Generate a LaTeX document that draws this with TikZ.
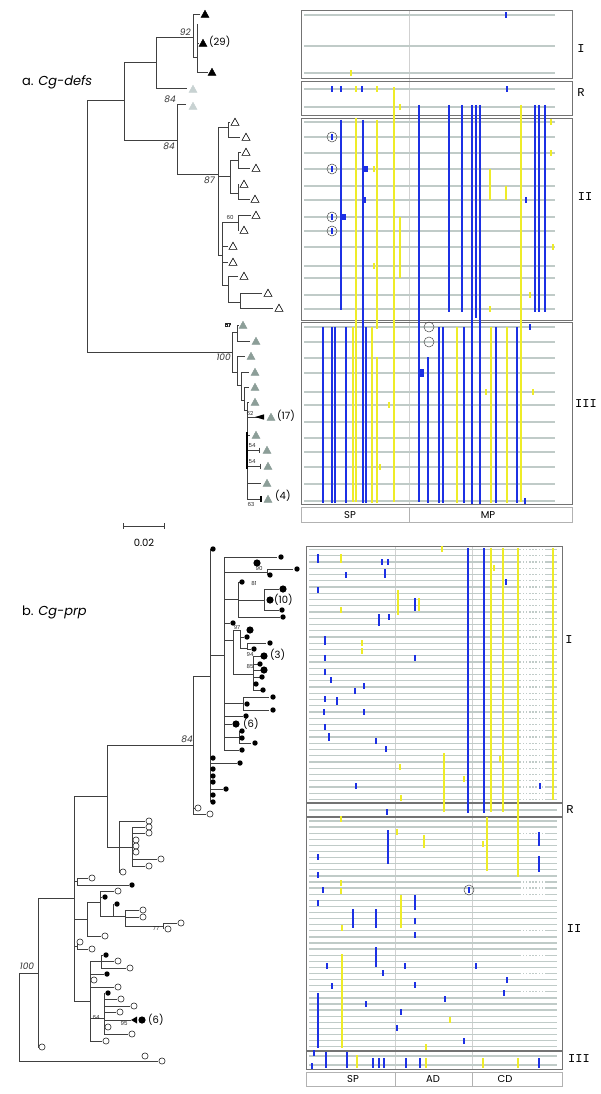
\documentclass[tikz,border=0pt]{standalone}
\usepackage{fontspec}
\setmainfont{Poppins}
\newfontfamily\monof{Liberation Mono}
\definecolor{bl}{RGB}{28,48,228}
\definecolor{yl}{RGB}{238,236,40}
\definecolor{rowc}{RGB}{192,203,200}
\definecolor{tgray}{RGB}{140,158,152}
\definecolor{rgray}{RGB}{200,210,210}
\tikzset{
  br/.style={draw=black!75, line width=0.7pt},
  rowa/.style={draw=rowc, line width=1.5pt},
  rowb/.style={draw=rowc, line width=1.3pt},
  boxa/.style={draw=black!55, line width=0.8pt},
  boxf/.style={draw=black!30, line width=0.6pt},
  divl/.style={draw=black!18, line width=0.4pt},
  tinyl/.style={font=\fontsize{5.5}{5.5}\selectfont, inner sep=0pt, text=black!85},
  boot/.style={font=\fontsize{9}{9}\selectfont\itshape, inner sep=0pt, text=black!80},
  cnt/.style={font=\fontsize{10}{10}\selectfont, inner sep=0pt, anchor=west},
  monol/.style={font=\fontsize{12}{12}\selectfont\monof, inner sep=0pt},
  footl/.style={font=\fontsize{10}{10}\selectfont, inner sep=0pt},
  title/.style={font=\fontsize{13}{13}\selectfont, inner sep=0pt, anchor=west},
}
\newcommand\barA[4]{\draw[line width=2.8pt,#4] (#1,#2) -- (#1,#3);}
\newcommand\barB[4]{\draw[line width=2.3pt,#4] (#1,#2) -- (#1,#3);}
\newcommand\mkA[3]{\fill[#3] ({#1-1.3},{#2-3}) rectangle ({#1+1.3},{#2+3});}
\newcommand\mkB[3]{\fill[#3] ({#1-1.2},{#2-2.8}) rectangle ({#1+1.2},{#2+2.8});}
\newcommand\circA[2]{\draw[black!70,line width=0.5pt] (#1,#2) circle (5);}
\newcommand\LeafT[3]{\filldraw[#3] ({#1-4},{#2+3.4}) -- ({#1+4},{#2+3.4}) -- (#1,{#2-3.8}) -- cycle;}
\newcommand\LeafDot[2]{\fill[black] (#1,#2) circle (2.7);}
\newcommand\LeafBig[2]{\fill[black] (#1,#2) circle (3.6);}
\newcommand\LeafO[2]{\draw[black!85,line width=0.6pt,fill=white] (#1,#2) circle (3.1);}
\begin{document}
\begin{tikzpicture}[x=1pt,y=-1pt]
\useasboundingbox (0,0) rectangle (600,1094);
\fill[white] (0,0) rectangle (600,1094);

%================ PANEL A : alignment =================
\draw[divl] (409,10) -- (409,504);
\foreach \y in {15,46,73,89,107,122,137,153,169,186,200,217,231,247,266,278,295,309,327,342,358,373,392,405,422,438,452,467,484,501}
  \draw[rowa] (304,\y) -- (555,\y);
\draw[boxa] (301,10) rectangle (572,78);
\draw[boxa] (301,81) rectangle (572,115);
\draw[boxa] (301,118) rectangle (572,320);
\draw[boxa] (301,322) rectangle (572,504);
\draw[boxf] (301,507) rectangle (572,522);
\draw[boxf] (409,507) -- (409,522);
\node[footl] (fSPa) at (350,515) {SP};
\node[footl] (fMPa) at (488,515) {MP};
% box I and R marks
\mkA{506}{15}{bl} \mkA{351}{73}{yl}
\mkA{332}{89}{bl} \mkA{341}{89}{bl} \mkA{356}{89}{yl} \mkA{362}{89}{bl} \mkA{377}{89}{yl} \mkA{507}{89}{bl}
\mkA{400}{107}{yl}
% long bars
\barA{394}{87}{502}{yl}
\barA{419}{105}{502}{bl}
\barA{449}{105}{312}{bl}
\barA{462}{105}{312}{bl}
\barA{472}{105}{504}{bl}
\barA{476}{105}{318}{bl}
\barA{480}{105}{504}{bl}
\barA{521}{105}{502}{yl}
\barA{535}{105}{312}{bl}
\barA{539}{105}{312}{bl}
\barA{545}{105}{312}{bl}
% box II
\barA{341}{120}{310}{bl}
\barA{356}{118}{502}{yl}
\barA{363}{120}{503}{bl}
\barA{377}{120}{329}{yl}
\barA{400}{217}{278}{yl}
\barA{490}{169}{200}{yl}
\barA{506}{186}{200}{yl}
\mkA{332}{137}{bl} \circA{332}{137}
\mkA{332}{169}{bl} \circA{332}{169}
\mkA{332}{217}{bl} \circA{332}{217}
\mkA{332}{231}{bl} \circA{332}{231}
\fill[bl] (363,166) rectangle (368,172);
\mkA{374}{169}{yl} \mkA{365}{200}{bl} \fill[bl] (341,214) rectangle (346,220);
\mkA{374}{266}{yl} \mkA{526}{200}{bl}
\mkA{551}{122}{yl} \mkA{551}{153}{yl} \mkA{553}{247}{yl} \mkA{530}{295}{yl} \mkA{490}{309}{yl}
% box III
\barA{323}{327}{503}{bl}
\barA{332}{327}{503}{bl}
\barA{335}{327}{503}{bl}
\barA{346}{327}{503}{bl}
\barA{353}{327}{502}{yl}
\barA{366}{327}{503}{bl}
\barA{372}{327}{503}{yl}
\barA{377}{357}{503}{yl}
\mkA{389}{405}{yl} \mkA{380}{467}{yl}
\circA{429}{327} \circA{429}{342}
\barA{428}{357}{503}{bl}
\fill[bl] (419,369) rectangle (423.5,377);
\barA{439}{327}{503}{bl}
\barA{443}{327}{503}{bl}
\barA{457}{327}{503}{yl}
\barA{464}{327}{503}{bl}
\barA{491}{327}{503}{yl}
\barA{496}{327}{503}{bl}
\barA{507}{327}{503}{yl}
\barA{517}{327}{503}{bl}
\mkA{530}{327}{bl} \mkA{525}{501}{bl}
\mkA{486}{392}{yl} \mkA{533}{392}{yl}
% row labels
\node[monol] (lIa) at (581,49) {I};
\node[monol] (lRa) at (581,93) {R};
\node[monol] (lIIa) at (585,197) {II};
\node[monol] (lIIIa) at (586,404) {III};

%================ PANEL A : tree =================
\node[title] (ta) at (22,82) {a. \textit{Cg-defs}};
\draw[br] (124,100) -| (87,352) -- (232,352);
\draw[br] (156,62) -| (124,140) -- (177,140);
\draw[br] (193,37) -| (156,88) -- (187,88);
\draw[br] (200,14) -| (193,57) -- (197,57);
\draw[br] (197,24) -- (197,72) -- (208,72);
\draw[br] (197,43) -- (199,43);
\LeafT{205}{14}{black} \LeafT{203}{43}{black} \LeafT{212}{72}{black}
\node[cnt] (c29) at (209,42) {(29)};
\node[boot, anchor=south east] (b92) at (191,36) {92};
\draw[br] (186,104) -| (177,174) -- (218,174);
\LeafT{193}{89}{rgray,draw=rgray} \LeafT{193}{106}{rgray,draw=rgray}
\node[boot, anchor=south east] (b84a) at (176,103) {84};
\node[boot, anchor=north east] (b84b) at (175,143) {84};
\draw[br] (228,127) -| (218,255) -- (222,255);
\draw[br] (218,176) -- (230,176);
\node[boot, anchor=north east] (b87) at (215,177) {87};
\draw[br] (230,122) -| (228,137) -- (240,137);
\draw[br] (238,160) -| (230,193) -- (238,193);
\draw[br] (241,152) -| (238,168) -- (250,168);
\draw[br] (239,184) -| (238,199) -- (250,199);
\draw[br] (238,222) -| (222,285) -- (228,285);
\draw[br] (251,215) -| (238,230) -- (239,230);
\draw[br] (222,246) -- (228,246);
\draw[br] (222,262) -- (228,262);
\draw[br] (238,276) -| (228,302) -- (240,302);
\draw[br] (262,293) -| (240,308) -- (273,308);
\node[tinyl] (t60) at (230,217) {60};
\foreach \p/\q in {235/122,246/137,246/152,256/168,244/184,255/199,256/215,244/230,233/246,233/262,244/276,268/293,279/308}
  \LeafT{\p}{\q}{draw=black,fill=white,line width=0.6pt}
% clade III
\draw[br] (237,332) -- (232,332) -- (232,372) -- (237,372);
\draw[br] (239,325) -| (237,341) -- (250,341);
\draw[br] (245,356) -| (237,385) -- (241,385);
\draw[br] (249,372) -| (241,400) -- (244,400);
\draw[br] (249,387) -| (244,410) -- (247,410);
\draw[br] (249,402) -- (247,402) -- (247,499) -- (262,499);
\draw[br] (247,417) -- (258,417);
\fill[black] (255,417) -- (264,414.3) -- (264,419.7) -- cycle;
\draw[br] (247,435) -- (250,435);
\draw[br] (247,450) -- (259,450); \draw[br] (259,447.5) -- (259,452.5);
\draw[br] (247,466) -- (260,466); \draw[br] (260,463.5) -- (260,468.5);
\draw[br] (247,483) -- (261,483);
\draw[black, line width=1.6pt] (247,432) -- (247,469);
\draw[black, line width=1.6pt] (261,496) -- (261,502);
\foreach \p/\q in {243/325,256/341,251/356,255/372,255/387,255/402,271/417,256/435,267/450,268/466,267/483,268/499}
  \LeafT{\p}{\q}{tgray,draw=tgray}
\node[tinyl] (t57) at (228,326) {57};
\node[boot, anchor=north east] (b100a) at (231,354) {100};
\node[tinyl] (t62) at (250,413) {62};
\node[tinyl] (t54a) at (252,446) {54};
\node[tinyl] (t54b) at (252,462) {54};
\node[tinyl] (t63) at (251,504) {63};
\node[cnt] (c17) at (277,416) {(17)};
\node[cnt] (c4) at (275,496) {(4)};
% scale bar
\draw[br] (123,526) -- (164,526);
\draw[br] (123,523) -- (123,529);
\draw[br] (164,523) -- (164,529);
\node[footl] (sc) at (144,543) {0.02};

%================ PANEL B : alignment =================
\draw[divl] (395,546) -- (395,1069);
\draw[divl] (472,546) -- (472,1069);
\foreach \k in {0,...,40} \draw[rowb] (309,{549.5+6.25*\k}) -- (557,{549.5+6.25*\k});
\draw[rowb] (309,810) -- (557,810);
\foreach \k in {0,...,37} \draw[rowb] (309,{821+6.1*\k}) -- (557,{821+6.1*\k});
\draw[rowb] (309,1056) -- (557,1056);
\draw[rowb] (309,1065) -- (557,1065);
\foreach \k in {0,...,40} \draw[white,line width=1.5pt,dash pattern=on 1.6pt off 1.6pt] (521,{549.5+6.25*\k}) -- (546,{549.5+6.25*\k});
\foreach \k in {2,10,11,12,18,22,25,28} \draw[white,line width=1.5pt,dash pattern=on 1.6pt off 1.6pt] (521,{821+6.1*\k}) -- (546,{821+6.1*\k});
\draw[boxa] (306,546) rectangle (562,802);
\draw[boxa] (306,803) rectangle (562,816);
\draw[boxa] (306,817) rectangle (562,1069);
\draw[black!55, line width=1.4pt] (306,1051) -- (562,1051);
\draw[boxf] (306,1072) rectangle (562,1086);
\draw[boxf] (395,1072) -- (395,1086);
\draw[boxf] (472,1072) -- (472,1086);
\node[footl] (fSPb) at (353,1079) {SP};
\node[footl] (fADb) at (433,1079) {AD};
\node[footl] (fCDb) at (505,1079) {CD};
% long bars
\barB{468}{548}{813}{bl}
\barB{484}{548}{813}{bl}
\barB{491}{548}{812}{yl}
\barB{503}{548}{812}{yl}
\barB{518}{548}{877}{yl}
\barB{553}{548}{800}{yl}
\barB{444}{753}{812}{yl}
\barB{487}{817}{871}{yl}
\barB{539}{832}{846}{bl}
\barB{539}{856}{872}{bl}
\barB{388}{830}{864}{bl}
% box I marks
\barB{318}{554}{563}{bl} \barB{341}{554}{563}{yl}
\mkB{382}{562}{bl} \mkB{388}{562}{bl}
\mkB{346}{575}{bl} \barB{385}{569}{578}{bl}
\mkB{442}{549}{yl} \mkB{494}{568}{yl} \mkB{506}{582}{bl}
\mkB{318}{590}{bl}
\barB{398}{590}{615}{yl}
\barB{415}{598}{611}{bl} \barB{419}{598}{611}{yl}
\mkB{341}{610}{yl} \mkB{379}{617}{bl} \mkB{389}{617}{bl} \mkB{379}{623}{bl}
\barB{325}{636}{645}{bl}
\mkB{362}{643}{yl} \mkB{362}{651}{yl}
\mkB{325}{658}{bl} \mkB{415}{658}{bl}
\mkB{325}{672}{bl} \mkB{331}{680}{bl}
\mkB{364}{686}{bl} \mkB{355}{691}{bl}
\mkB{325}{699}{bl} \barB{337}{697}{705}{bl}
\mkB{324}{712}{bl} \mkB{364}{712}{bl}
\mkB{325}{727}{bl} \barB{329}{733}{741}{bl}
\mkB{376}{741}{bl} \mkB{386}{749}{bl}
\mkB{400}{767}{yl} \mkB{500}{759}{yl} \mkB{464}{779}{yl}
\mkB{356}{786}{bl} \mkB{540}{786}{bl}
\mkB{401}{798}{yl}
\mkB{387}{812}{bl}
% box II marks
\mkB{341}{819}{yl} \mkB{397}{832}{yl}
\barB{424}{835}{848}{yl}
\mkB{483}{844}{yl}
\mkB{318}{857}{bl} \mkB{318}{875}{bl}
\mkB{341}{883}{yl} \mkB{341}{891}{yl} \mkB{323}{890}{bl}
\mkB{469}{890}{bl} \circA{469}{890}
\mkB{318}{903}{bl}
\barB{401}{895}{928}{yl}
\barB{415}{895}{910}{bl}
\barB{353}{909}{928}{bl} \barB{376}{909}{928}{bl}
\mkB{342}{928}{yl} \mkB{415}{921}{bl} \mkB{415}{935}{bl}
\barB{376}{947}{967}{bl}
\barB{342}{954}{1048}{yl}
\mkB{327}{966}{bl} \mkB{405}{966}{bl} \mkB{476}{966}{bl}
\mkB{383}{973}{bl} \mkB{507}{980}{bl}
\mkB{332}{986}{bl} \mkB{415}{985}{bl}
\mkB{504}{993}{bl}
\barB{318}{993}{1048}{bl}
\mkB{445}{999}{bl} \mkB{366}{1004}{bl} \mkB{401}{1012}{bl}
\mkB{450}{1020}{yl} \mkB{397}{1028}{bl} \mkB{464}{1041}{bl}
\mkB{426}{1047}{yl}
% box III marks
\mkB{314}{1053}{bl} \mkB{312}{1066}{bl}
\barB{326}{1052}{1068}{bl} \barB{347}{1052}{1068}{bl}
\barB{357}{1055}{1068}{yl}
\barB{373}{1058}{1068}{bl} \barB{379}{1058}{1068}{bl} \barB{384}{1058}{1068}{bl}
\barB{406}{1058}{1068}{bl} \barB{420}{1058}{1068}{bl}
\barB{426}{1058}{1068}{yl} \barB{483}{1058}{1068}{yl}
\barB{518}{1058}{1068}{yl} \barB{539}{1058}{1068}{bl}
% row labels
\node[monol] (lIb) at (569,640) {I};
\node[monol] (lRb) at (570,810) {R};
\node[monol] (lIIb) at (574,929) {II};
\node[monol] (lIIIb) at (579,1059) {III};

%================ PANEL B : tree =================
\node[title] (tb) at (22,612) {b. \textit{Cg-prp}};
% root
\draw[br] (38,973) -- (19,973) -- (19,1061) -- (158,1061);
\LeafO{162}{1061} \LeafO{145}{1056}
\node[boot] (b100b) at (27,966) {100};
\draw[br] (74,898) -- (38,898) -- (38,1047) -- (39,1047);
\LeafO{42}{1047}
\draw[br] (107,796) -- (74,796) -- (74,1001) -- (90,1001);
\draw[br] (193,745) -- (107,745) -- (107,847) -- (119,847);
\node[boot] (b84c) at (187,739) {84};
\draw[br] (210,676) -- (193,676) -- (193,814) -- (206,814);
\draw[br] (193,808) -- (195,808);
\LeafO{198}{808} \LeafO{210}{814}
% H clade
\draw[br] (210,549) -- (210,802);
\draw[br] (210,655) -- (224,655);
\draw[br] (224,557) -- (224,750) -- (239,750);
\LeafDot{213}{549}
\foreach \q in {758,769,776,782,795,802} \LeafDot{213}{\q}
\draw[br] (210,763) -- (237,763); \LeafDot{240}{763}
\draw[br] (210,789) -- (223,789); \LeafDot{226}{789}
\draw[br] (224,557) -- (277,557); \LeafDot{281}{557}
\LeafBig{257}{563}
\draw[br] (224,572) -- (267,572); \draw[br] (267,569) -- (267,575);
\draw[br] (267,569) -- (293,569); \LeafDot{297}{569} \LeafDot{270}{575}
\node[tinyl] (t90) at (259,568) {90};
\draw[br] (224,599) -- (238,599);
\draw[br] (242,582) -- (238,582) -- (238,617) -- (280,617);
\LeafDot{242}{582} \LeafDot{283}{617}
\draw[br] (238,600) -- (264,600);
\draw[br] (279,589) -- (264,589) -- (264,610) -- (279,610);
\LeafBig{283}{589} \LeafBig{270}{600} \LeafDot{282}{610}
\node[tinyl] (t81) at (254,584) {81};
\node[cnt] (c10) at (274,600) {(10)};
\draw[br] (224,623) -- (230,623); \LeafDot{233}{623}
\node[tinyl] (t97) at (237,627) {97};
\draw[br] (224,640) -- (233,640);
\draw[br] (240,630) -- (233,630) -- (233,674) -- (253,674);
\draw[br] (240,630) -- (240,648) -- (247,648);
\LeafBig{250}{630}
\draw[br] (240,637) -- (244,637); \LeafDot{247}{637}
\draw[br] (247,643) -- (247,649);
\draw[br] (247,643) -- (266,643); \LeafDot{270}{643} \LeafDot{254}{649}
\draw[br] (247,649) -- (251,649);
\node[tinyl] (t94) at (250,654) {94};
\draw[br] (253,656) -- (253,690);
\foreach \p/\q in {260/664,262/677,256/684,263/690} {\draw[br] (253,\q) -- (\p,\q); \LeafDot{\p}{\q}}
\foreach \p/\q in {264/656,264/670} {\draw[br] (253,\q) -- (\p,\q); \LeafBig{\p}{\q}}
\node[tinyl] (t85) at (250,667) {85};
\node[cnt] (c3) at (270,655) {(3)};
\draw[br] (224,703) -- (243,703);
\draw[br] (269,697) -- (243,697) -- (243,710) -- (269,710);
\LeafDot{273}{697} \LeafDot{273}{710}
\draw[br] (243,704) -- (244,704); \LeafDot{247}{704}
\draw[br] (224,716) -- (243,716); \LeafDot{246}{716}
\draw[br] (224,724) -- (232,724); \LeafBig{236}{724}
\node[cnt] (c6a) at (243,724) {(6)};
\draw[br] (224,737) -- (239,737);
\draw[br] (239,731) -- (239,743) -- (251,743);
\LeafDot{242}{731} \LeafDot{242}{738} \LeafDot{255}{743}
\LeafDot{242}{750}
% open circle clade
\draw[br] (145,821) -- (119,821) -- (119,872) -- (120,872);
\LeafO{149}{821} \LeafO{123}{872}
\draw[br] (119,847) -- (132,847);
\draw[br] (132,827) -- (132,866);
\foreach \p/\q in {149/827,149/833,161/859,149/866} {\draw[br] (132,\q) -- ({\p-4},\q); \LeafO{\p}{\q}}
\LeafO{136}{840} \LeafO{136}{846} \LeafO{136}{852}
% mixed small clades
\draw[br] (74,881) -- (77,881);
\draw[br] (88,878) -- (77,878) -- (77,885) -- (129,885);
\LeafO{92}{878} \LeafDot{132}{885}
\draw[br] (74,919) -- (87,919);
\draw[br] (100,902) -- (87,902) -- (87,936) -- (101,936);
\LeafO{105}{936}
\draw[br] (114,891) -- (100,891) -- (100,916) -- (113,916);
\LeafO{118}{891}
\draw[br] (100,897) -- (102,897); \LeafDot{105}{897}
\draw[br] (113,904) -- (113,916);
\LeafDot{117}{904}
\draw[br] (113,916) -- (125,916);
\draw[br] (139,910) -- (125,910) -- (125,926) -- (163,926);
\draw[br] (125,917) -- (139,917);
\LeafO{143}{910} \LeafO{143}{917}
\draw[br] (163,923) -- (163,929);
\draw[br] (163,923) -- (177,923); \LeafO{181}{923}
\LeafO{168}{929}
\node[tinyl] (t77) at (156,929) {77};
\draw[br] (74,946) -- (77,946);
\draw[br] (77,942) -- (77,949) -- (88,949);
\LeafO{80}{942} \LeafO{92}{949}
% bottom subclade
\draw[br] (90,961) -- (90,1041) -- (102,1041);
\LeafO{106}{1041}
\draw[br] (90,961) -- (101,961);
\draw[br] (101,955) -- (101,968) -- (126,968);
\draw[br] (101,955) -- (103,955); \LeafDot{106}{955}
\draw[br] (101,961) -- (114,961); \LeafO{118}{961}
\LeafO{130}{968}
\draw[br] (90,974) -- (104,974); \LeafDot{107}{974}
\draw[br] (90,980) -- (91,980); \LeafO{94}{980}
\draw[br] (90,987) -- (114,987); \LeafO{118}{987}
\draw[br] (90,1018) -- (104,1018);
\draw[br] (104,993) -- (104,1034) -- (128,1034); \LeafO{132}{1034}
\LeafDot{108}{993}
\draw[br] (104,999) -- (117,999); \LeafO{121}{999}
\draw[br] (104,1006) -- (130,1006); \LeafO{134}{1006}
\draw[br] (104,1012) -- (116,1012); \LeafO{120}{1012}
\draw[br] (104,1020) -- (131,1020);
\fill[black] (131,1020) -- (137,1016.5) -- (137,1023.5) -- cycle;
\LeafBig{142}{1020}
\node[cnt] (c6b) at (148,1020) {(6)};
\LeafO{108}{1027}
\node[tinyl] (t64) at (96,1017) {64};
\node[tinyl] (t95) at (124,1023) {95};
\end{tikzpicture}
\end{document}
